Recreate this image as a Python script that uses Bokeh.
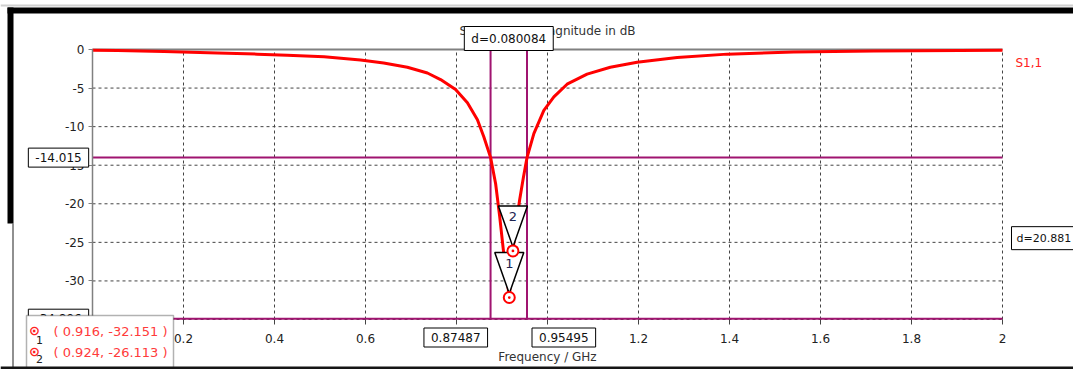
from bokeh.plotting import figure
from bokeh.models import Label, BoxAnnotation, FixedTicker, Range1d
from bokeh.embed import file_html
from bokeh.resources import INLINE

# ---------------- data ----------------
freq = [0.0, 0.055, 0.157, 0.275, 0.362, 0.428, 0.509, 0.589, 0.640, 0.692,
        0.736, 0.765, 0.798, 0.824, 0.846, 0.860, 0.875, 0.886, 0.895, 0.903,
        0.910, 0.916, 0.924, 0.931, 0.939, 0.947, 0.955, 0.970, 0.992, 1.014,
        1.043, 1.087, 1.138, 1.197, 1.285, 1.395, 1.541, 1.717, 2.0]
s11 = [-0.09, -0.12, -0.27, -0.44, -0.60, -0.74, -0.95, -1.35, -1.75, -2.30,
       -3.05, -3.90, -5.20, -6.90, -9.10, -11.30, -14.015, -17.40, -21.70, -26.00,
       -29.20, -32.151, -26.113, -22.60, -19.40, -16.60, -14.015, -10.90, -7.90, -6.15,
       -4.50, -3.20, -2.30, -1.65, -1.05, -0.60, -0.33, -0.18, -0.09]
marker_id = ["1", "2"]
marker_f = [0.916, 0.924]
marker_db = [-32.151, -26.113]
vline_f = [0.87487, 0.95495]
vline_delta = 0.080084
hline_db = [-14.015, -34.896]
hline_delta = 20.881
x_ticks = [0, 0.2, 0.4, 0.6, 0.8, 1.0, 1.2, 1.4, 1.6, 1.8, 2.0]
x_tick_labels = ["0", "0.2", "0.4", "0.6", "0.8", "1", "1.2", "1.4", "1.6", "1.8", "2"]
y_ticks = [0, -5, -10, -15, -20, -25, -30, -35]
y_tick_labels = ["0", "-5", "-10", "-15", "-20", "-25", "-30", "-35"]
title_text = "S-Parameter Magnitude in dB"
series_name = "S1,1"
x_label = "Frequency / GHz"

# ---------------- geometry (canvas px) ----------------
W, H = 1073, 369
FL, FT, FW, FH = 92, 49, 910, 270
X0, X1 = 0.0, 2.0
Y0, Y1 = -35.0, 0.0
PX = (X1 - X0) / FW
PY = (Y1 - Y0) / FH

def fx(cx):
    return X0 + (cx - FL) * PX

def fy(cy):
    return Y1 - (cy - FT) * PY

FONT = "DejaVu Sans"
MAG = "#a01470"

p = figure(width=W, height=H,
           x_range=Range1d(fx(0), fx(W)), y_range=Range1d(fy(H), fy(0)),
           output_backend="svg", toolbar_location=None, title=None,
           min_border=0, min_border_left=0, min_border_right=0,
           min_border_top=0, min_border_bottom=0)
p.background_fill_color = "white"
p.border_fill_color = "white"
p.outline_line_color = None
p.grid.visible = False

# axes drawn inside the full-canvas frame
p.xaxis.fixed_location = Y0
p.yaxis.fixed_location = X0
p.xaxis.bounds = (X0, X1)
p.yaxis.bounds = (Y0, Y1)
p.xaxis.ticker = FixedTicker(ticks=x_ticks)
p.yaxis.ticker = FixedTicker(ticks=y_ticks)
p.xaxis.major_label_overrides = {t: l for t, l in zip(x_ticks, x_tick_labels)}
p.yaxis.major_label_overrides = {t: l for t, l in zip(y_ticks, y_tick_labels)}
for ax in (p.xaxis[0], p.yaxis[0]):
    ax.axis_line_color = "#808080"
    ax.axis_line_width = 1.5
    ax.major_tick_line_color = "#808080"
    ax.major_tick_in = 0
    ax.minor_tick_line_color = None
    ax.major_label_text_font = FONT
    ax.major_label_text_font_size = "12px"
    ax.major_label_text_color = "#222222"
p.xaxis.axis_line_color = None
p.xaxis.major_tick_line_color = "#444444"
p.xaxis.major_tick_out = 5
p.xaxis.major_label_standoff = 9
p.yaxis.major_tick_out = 4
p.yaxis.major_label_standoff = 4

# dashed grid
p.segment(x0=x_ticks, y0=[Y0] * len(x_ticks), x1=x_ticks, y1=[Y1] * len(x_ticks),
          line_color="#444444", line_dash="3 3", line_width=1)
p.segment(x0=[X0] * len(y_ticks), y0=y_ticks, x1=[X1] * len(y_ticks), y1=y_ticks,
          line_color="#444444", line_dash="3 3", line_width=1)
# top frame line
p.segment(x0=[X0], y0=[Y1], x1=[X1], y1=[Y1], line_color="#808080", line_width=2)

# marker lines
p.segment(x0=vline_f, y0=[Y0] * 2, x1=vline_f, y1=[Y1] * 2, line_color=MAG, line_width=2)
p.segment(x0=[X0] * 2, y0=hline_db, x1=[X1] * 2, y1=hline_db, line_color=MAG, line_width=2)

# curve
p.line(freq, s11, line_color="#ff0000", line_width=3)

# marker triangles
tri_xs, tri_ys = [], []
for f, d in zip(marker_f, marker_db):
    tri_xs.append([f, f - 14.5 * PX, f + 14.5 * PX])
    tri_ys.append([d + 4 * PY, d + 45 * PY, d + 45 * PY])
p.patches(tri_xs, tri_ys, fill_color="white", line_color="black", line_width=1.5)
p.scatter(marker_f, marker_db, marker="circle_dot", size=11, fill_color="white",
          line_color="#ff0000", line_width=2)
for mid, f, d in zip(marker_id, marker_f, marker_db):
    p.add_layout(Label(x=f, y=d + 34 * PY, text=mid, text_align="center", text_baseline="middle",
                       text_font=FONT, text_font_size="13px", text_color="#1c2350"))

# title
p.add_layout(Label(x=(X0 + X1) / 2, y=fy(30), text=title_text, text_align="center",
                   text_baseline="middle", text_font=FONT, text_font_size="12px", text_color="#333333"))
# series name
p.add_layout(Label(x=fx(1015), y=fy(62), text=series_name, text_align="left",
                   text_baseline="middle", text_font=FONT, text_font_size="12px", text_color="#ff2020"))
# x axis title
p.add_layout(Label(x=(X0 + X1) / 2, y=fy(356), text=x_label, text_align="center",
                   text_baseline="middle", text_font=FONT, text_font_size="12px", text_color="#333333"))

def box_label(x, y, text, align="center", size="12px", padl=7, padr=7):
    return Label(x=x, y=y, text=text, text_align=align, text_baseline="middle",
                 text_font=FONT, text_font_size=size, text_color="#111111",
                 background_fill_color="white", border_line_color="black", border_line_width=1,
                 padding=dict(left=padl, right=padr, top=5, bottom=5))

for h in hline_db:
    p.add_layout(box_label(fx(58), h, f"{h:.3f}"))
p.add_layout(box_label(vline_f[0] - 3 * PX, fy(337), f"{vline_f[0]:.5f}", align="right"))
p.add_layout(box_label(vline_f[1] + 5 * PX, fy(337), f"{vline_f[1]:.5f}", align="left"))
p.add_layout(box_label((vline_f[0] + vline_f[1]) / 2, fy(38), f"d={vline_delta:.6f}"))
p.add_layout(box_label(fx(1011), (hline_db[0] + hline_db[1]) / 2,
                       f"d={hline_delta:.3f}", align="left", size="11px", padl=5, padr=4))

# window frame bands
def cbox(l, r, t, b, **kw):
    return BoxAnnotation(left=l, right=r, top=t, bottom=b, left_units="canvas", right_units="canvas",
                         top_units="canvas", bottom_units="canvas", **kw)

p.add_layout(cbox(0, W, 4, 6, fill_color="#d0d0d0", fill_alpha=1, line_color=None))
p.add_layout(cbox(7, W, 7, 13, fill_color="black", fill_alpha=1, line_color=None))
p.add_layout(cbox(7, 13, 7, 223, fill_color="black", fill_alpha=1, line_color=None))
p.add_layout(cbox(12, 13, 223, H, fill_color="#222222", fill_alpha=1, line_color=None))

# marker legend box
p.add_layout(cbox(26, 173, 315, H + 20, fill_color="white", fill_alpha=1, line_color="black", line_width=1.5))
p.add_layout(cbox(0, W, 366, H, fill_color="#151515", fill_alpha=1, line_color=None))
for i, (mid, f, d) in enumerate(zip(marker_id, marker_f, marker_db)):
    cy = 330.5 + i * 21
    p.add_layout(Label(x=fx(34), y=fy(cy - 1), text="\u2299", text_align="center", text_baseline="middle",
                       text_font=FONT, text_font_size="13px", text_color="#ff2020", text_font_style="bold"))
    p.add_layout(Label(x=fx(39), y=fy(cy + 9 - 2 * i), text=mid, text_align="center", text_baseline="middle",
                       text_font=FONT, text_font_size="11px", text_color="#222222"))
    p.add_layout(Label(x=fx(53), y=fy(cy), text=f"( {f:.3f}, {d:.3f} )", text_align="left",
                       text_baseline="middle", text_font=FONT, text_font_size="13px", text_color="#ff3b3b"))

open("out.html", "w").write(file_html(p, INLINE))
